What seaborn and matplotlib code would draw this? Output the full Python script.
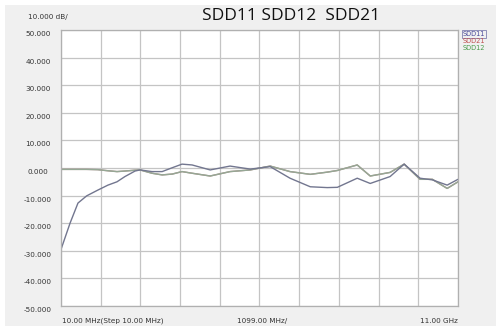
import matplotlib
matplotlib.use("Agg")
import matplotlib.pyplot as plt
import seaborn as sns
import pandas as pd
from matplotlib.patches import Rectangle

sns.set_style("white")
plt.rcParams['font.family'] = ['DejaVu Sans']

freq_ghz = [0.01, 0.26, 0.48, 0.72, 1.03, 1.31, 1.56, 1.78, 2.06, 2.20, 2.53, 2.81,
            3.09, 3.36, 3.64, 4.14, 4.69, 5.25, 5.80, 6.35, 6.91, 7.38, 7.66, 8.21,
            8.57, 9.12, 9.51, 9.95, 10.29, 10.70, 11.0]
sdd11 = [-29.5, -20.0, -12.7, -10.1, -8.0, -6.2, -5.0, -3.1, -1.1, -0.7, -1.3, -1.3,
         0.1, 1.4, 1.1, -0.7, 0.7, -0.4, 0.5, -3.7, -6.8, -7.1, -7.0, -3.7,
         -5.6, -3.1, 1.4, -3.7, -4.3, -6.2, -4.1]
sdd12 = [-0.5, -0.5, -0.5, -0.5, -0.6, -1.0, -1.3, -1.1, -0.8, -0.7, -1.9, -2.5,
         -2.2, -1.3, -1.9, -2.9, -1.3, -0.7, 0.7, -1.3, -2.3, -1.5, -0.9, 1.1,
         -2.9, -1.6, 1.4, -4.1, -4.1, -7.4, -5.0]
sdd21 = list(sdd12)
y_ticks = [50, 40, 30, 20, 10, 0, -10, -20, -30, -40, -50]
y_tick_labels = ["50.000", "40.000", "30.000", "20.000", "10.000", "0.000",
                 "-10.000", "-20.000", "-30.000", "-40.000", "-50.000"]
x_labels = ["10.00 MHz(Step 10.00 MHz)", "1099.00 MHz/", "11.00 GHz"]
legend_names = ["SDD11", "SDD21", "SDD12"]

W, H = 500, 334
fig = plt.figure(figsize=(5, 3.34), dpi=100, facecolor="white")
bg = fig.add_axes([0, 0, 1, 1], zorder=-10)
bg.set_xlim(0, W)
bg.set_ylim(H, 0)
bg.axis("off")
bg.add_patch(Rectangle((5, 5), 491, 321, facecolor="#f0f0f0", edgecolor="none"))

ax = fig.add_axes([61 / W, 28 / H, 397 / W, 276 / H], zorder=1)
ax.set_facecolor("white")

df = pd.DataFrame({"f": freq_ghz, "SDD11": sdd11, "SDD21": sdd21, "SDD12": sdd12})
sns.lineplot(data=df, x="f", y="SDD21", ax=ax, color="#b08a8a", lw=1.0)
sns.lineplot(data=df, x="f", y="SDD12", ax=ax, color="#95a895", lw=1.0)
sns.lineplot(data=df, x="f", y="SDD11", ax=ax, color="#72768f", lw=1.0)

ax.set_xlim(0.01, 11.0)
ax.set_ylim(-50, 50)
xs = [0.01 + i * 1.099 for i in range(11)]
ax.set_xticks(xs)
ax.set_yticks(y_ticks)
ax.grid(True, color="#c4c4c4", lw=0.9)
ax.tick_params(left=False, bottom=False, labelleft=False, labelbottom=False)
ax.set_xlabel("")
ax.set_ylabel("")
for s in ax.spines.values():
    s.set_color("#b0b0b0")
    s.set_linewidth(0.9)

# y tick labels
for v, lab in zip(y_ticks, y_tick_labels):
    ypix = 30 + (50 - v) * 2.76 + 4
    fig.text(38 / W, 1 - ypix / H, lab, ha="center", va="center", fontsize=5.2, color="#333333")

fig.text(48 / W, 1 - 17 / H, "10.000 dB/", ha="center", va="center", fontsize=5.2, color="#333333")
fig.text(291 / W, 1 - 16 / H, "SDD11 SDD12  SDD21", ha="center", va="center",
         fontsize=12.5, color="#111111", family=["Open Sans", "DejaVu Sans"])

fig.text(62 / W, 1 - 321 / H, x_labels[0], ha="left", va="center", fontsize=5.2, color="#333333")
fig.text(262 / W, 1 - 321 / H, x_labels[1], ha="center", va="center", fontsize=5.2, color="#333333")
fig.text(458 / W, 1 - 321 / H, x_labels[2], ha="right", va="center", fontsize=5.2, color="#333333")

leg_colors = ["#4a4a9a", "#c05050", "#4a9a4a"]
for i, (n, c) in enumerate(zip(legend_names, leg_colors)):
    kw = {}
    if i == 0:
        kw["bbox"] = dict(boxstyle="square,pad=0.15", facecolor="none", edgecolor="#8080b0", lw=0.6)
    fig.text(474 / W, 1 - (34 + i * 7) / H, n, ha="center", va="center", fontsize=4.8,
             color=c, **kw)

fig.savefig("out.png", dpi=100, facecolor="white")
